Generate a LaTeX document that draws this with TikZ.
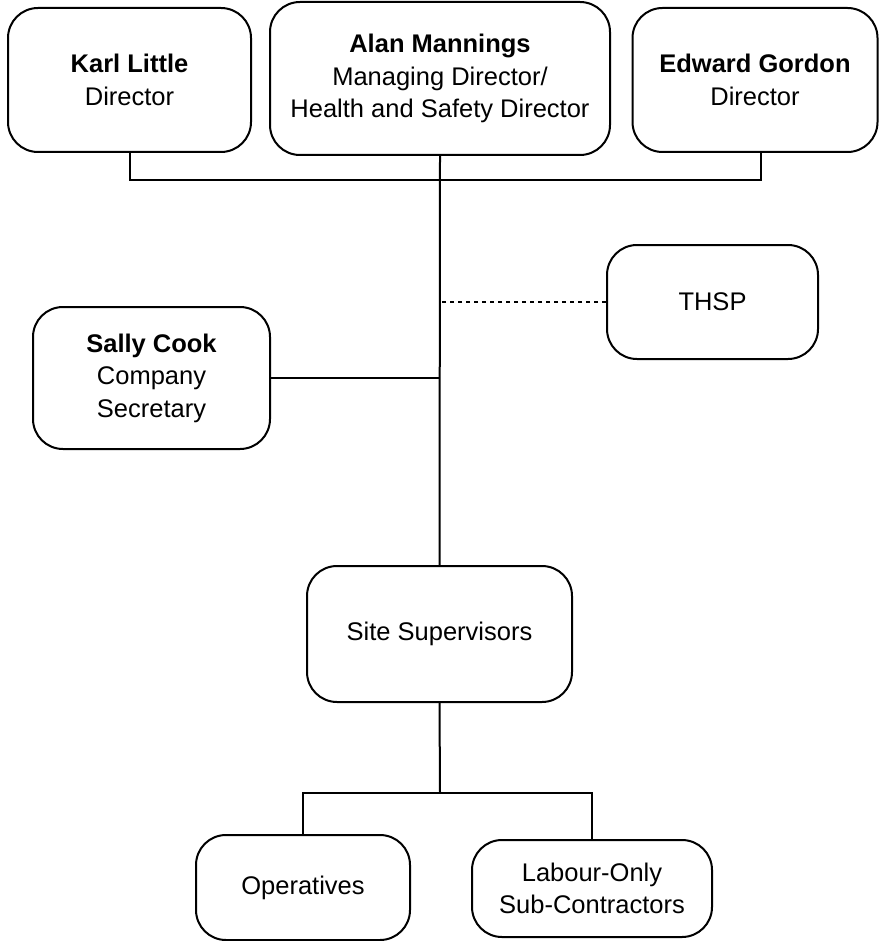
\documentclass[tikz,border=0pt]{standalone}
\usepackage{fontspec}
\setmainfont{Liberation Sans}
\usepackage{tikz}
\usetikzlibrary{calc}

\begin{document}
\begin{tikzpicture}[x=1pt,y=-1pt,
    box/.style={draw,line width=2pt,rounded corners=30pt,align=center,inner sep=0pt,
      font=\fontsize{25.5}{32.5}\selectfont},
    link/.style={line width=2pt},
    aside/.style={line width=2pt,dash pattern=on 4pt off 4pt}]
      \useasboundingbox(0,0)rectangle(880,941);
      \node[box,minimum width=243pt,minimum height=144pt](karl)at(129.5,80){{\bfseries Karl Little}\\Director};
      \node[box,minimum width=340pt,minimum height=153pt](alan)at(440,78.5){{\bfseries Alan Mannings}\\Managing Director/\\Health and Safety Director};
      \node[box,minimum width=245pt,minimum height=144pt](edward)at(755,80){{\bfseries Edward Gordon}\\Director};
      \node[box,minimum width=211pt,minimum height=114pt](thsp)at(712.5,302){THSP};
      \node[box,minimum width=237pt,minimum height=142pt](sally)at(151.5,378){{\bfseries Sally Cook}\\Company\\Secretary};
      \node[box,minimum width=265pt,minimum height=136pt](site)at(439.5,634){Site Supervisors};
      \node[box,minimum width=214pt,minimum height=105pt](ops)at(303,887.5){Operatives};
      \node[box,minimum width=240pt,minimum height=97pt](labour)at(592,888.5){Labour-Only\\Sub-Contractors};
      \coordinate(top)at(440,180);
      \coordinate(split)at(440,793);
      \draw[link](karl.south)|-(top)-|($(edward.south)+(6,0)$);
      \draw[link](alan.south)--(site.north);
      \draw[link](sally.east)--(sally.east-|alan.south);
      \draw[aside](thsp.west)--(thsp.west-|alan.south);
      \draw[link](site.south)--(split);
      \draw[link](ops.north)|-(split)-|(labour.north);
    \end{tikzpicture}
\end{document}
